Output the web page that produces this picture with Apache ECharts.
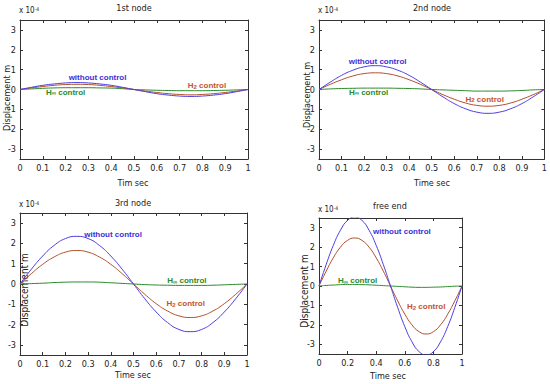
<!DOCTYPE html>
<html><head><meta charset="utf-8">
<script src="https://cdn.jsdelivr.net/npm/echarts@6/dist/echarts.min.js"></script>
<style>html,body{margin:0;padding:0;background:#fff}#c{width:550px;height:384px}</style>
</head><body><div id="c"></div>
<script>
var times = [0,0.05,0.1,0.15,0.2,0.25,0.3,0.35,0.4,0.45,0.5,0.55,0.6,0.65,0.7,0.75,0.8,0.85,0.9,0.95,1];
var panelTitles = ['1st node','2nd node','3rd node','free end'];
var xTitles = ['Tim sec','Time sec','Time sec','Time sec'];
var yTicks = [-3,-2,-1,0,1,2,3];

var node1Without = [0,0.11,0.21,0.28,0.33,0.35,0.33,0.28,0.21,0.11,0,-0.11,-0.21,-0.28,-0.33,-0.35,-0.33,-0.28,-0.21,-0.11,0];
var node1H2 = [0,0.08,0.15,0.21,0.25,0.26,0.25,0.21,0.15,0.08,0,-0.08,-0.15,-0.21,-0.25,-0.27,-0.25,-0.21,-0.15,-0.08,0];
var node1Hinf = [0,0.03,0.06,0.08,0.09,0.09,0.09,0.08,0.07,0.04,0,-0.02,-0.04,-0.05,-0.06,-0.06,-0.06,-0.05,-0.04,-0.02,0];

var node2Without = [0,0.37,0.71,0.97,1.14,1.2,1.14,0.97,0.71,0.37,0,-0.37,-0.71,-0.97,-1.14,-1.2,-1.14,-0.97,-0.71,-0.37,0];
var node2H2 = [0,0.26,0.49,0.68,0.8,0.84,0.8,0.68,0.49,0.26,0,-0.26,-0.49,-0.68,-0.8,-0.84,-0.8,-0.68,-0.49,-0.26,0];
var node2Hinf = [0,0.03,0.05,0.06,0.07,0.07,0.07,0.06,0.05,0.03,0,-0.02,-0.04,-0.06,-0.08,-0.08,-0.08,-0.07,-0.05,-0.02,0];

var node3Without = [0,0.73,1.38,1.9,2.24,2.35,2.24,1.9,1.38,0.73,0,-0.73,-1.38,-1.9,-2.24,-2.35,-2.24,-1.9,-1.38,-0.73,0];
var node3H2 = [0,0.51,0.97,1.33,1.57,1.65,1.57,1.33,0.97,0.51,0,-0.51,-0.97,-1.33,-1.57,-1.65,-1.57,-1.33,-0.97,-0.51,0];
var node3Hinf = [0,0.02,0.04,0.07,0.09,0.1,0.1,0.09,0.06,0.03,0,-0.03,-0.05,-0.06,-0.07,-0.07,-0.07,-0.06,-0.04,-0.02,0];

var freeWithout = [0,1.1,2.09,2.87,3.38,3.55,3.38,2.87,2.09,1.1,0,-1.1,-2.09,-2.87,-3.38,-3.55,-3.38,-2.87,-2.09,-1.1,0];
var freeH2 = [0,0.76,1.45,2.0,2.35,2.47,2.35,2.0,1.45,0.76,0,-0.76,-1.45,-2.0,-2.35,-2.47,-2.35,-2.0,-1.45,-0.76,0];
var freeHinf = [0,0.03,0.05,0.07,0.08,0.08,0.07,0.06,0.04,0.02,0,-0.02,-0.04,-0.06,-0.07,-0.07,-0.06,-0.05,-0.03,-0.01,0];

var panels = [
  {w: node1Without, h2: node1H2, hi: node1Hinf},
  {w: node2Without, h2: node2H2, hi: node2Hinf},
  {w: node3Without, h2: node3H2, hi: node3Hinf},
  {w: freeWithout, h2: freeH2, hi: freeHinf}
];

// layout (pixels) and label anchors
var grids = [
  {left:20, top:20, width:228, height:139},
  {left:319, top:20, width:227, height:139},
  {left:20, top:213, width:227, height:142},
  {left:319, top:218, width:143, height:136}
];
var xIntervals = [0.1,0.1,0.1,0.2];
var labelPos = [
  {w:[0.34,0.6], hi:[0.2,-0.15], h2:[0.82,0.18]},
  {w:[0.26,1.42], hi:[0.22,-0.15], h2:[0.735,-0.5]},
  {w:[0.41,2.43], hi:[0.735,0.16], h2:[0.73,-0.98]},
  {w:[0.58,2.83], hi:[0.27,0.26], h2:[0.75,-1.08]}
];
var titlePos = [[134,8],[432,8],[133,203],[390,206]];
var expPos = [[19,10],[318,10],[19,204],[318,209]];
var xNamePos = [[133,183],[432,183],[133,375],[388,376]];
var yNamePos = [[7,98,9],[307,95,9],[24,290,10],[304,291,10]];

var BLUE = '#4a3ee0', RED = '#b24f2c', GREEN = '#2b8a2b';
var FONT = "'Liberation Sans Narrow','DejaVu Sans Condensed',sans-serif";
var AX = '#333';

var option = {backgroundColor:'#fff', animation:false, grid:[], xAxis:[], yAxis:[], series:[], graphic:[]};

function pairs(arr){ return times.map(function(t,i){return [t,arr[i]];}); }

panels.forEach(function(p, i){
  var g = grids[i];
  option.grid.push({left:g.left, top:g.top, width:g.width, height:g.height, show:false});
  option.xAxis.push({type:'value', gridIndex:i, min:0, max:1, interval:xIntervals[i], position:'bottom',
    axisLine:{show:true, onZero:false, lineStyle:{color:AX,width:1}},
    axisTick:{show:true, inside:true, length:3, lineStyle:{color:AX}},
    axisLabel:{show:true, margin:4, fontSize:9, color:'#222', fontFamily:FONT},
    splitLine:{show:false}});
  option.xAxis.push({type:'value', gridIndex:i, min:0, max:1, interval:xIntervals[i], position:'top',
    axisLine:{show:true, onZero:false, lineStyle:{color:AX,width:1}},
    axisTick:{show:true, inside:true, length:3, lineStyle:{color:AX}},
    axisLabel:{show:false}, splitLine:{show:false}});
  option.yAxis.push({type:'value', gridIndex:i, min:-3.5, max:3.5, position:'left',
    axisLine:{show:true, onZero:false, lineStyle:{color:AX,width:1}},
    axisTick:{show:true, inside:true, length:3, customValues:yTicks, lineStyle:{color:AX}},
    axisLabel:{show:true, margin:4, fontSize:9, color:'#222', fontFamily:FONT, customValues:yTicks},
    splitLine:{show:false}});
  option.yAxis.push({type:'value', gridIndex:i, min:-3.5, max:3.5, position:'right',
    axisLine:{show:true, onZero:false, lineStyle:{color:AX,width:1}},
    axisTick:{show:true, inside:true, length:3, customValues:yTicks, lineStyle:{color:AX}},
    axisLabel:{show:false}, splitLine:{show:false}});
  var xi = i*2, yi = i*2;
  [[p.hi,GREEN],[p.h2,RED],[p.w,BLUE]].forEach(function(s){
    option.series.push({type:'line', xAxisIndex:xi, yAxisIndex:yi, data:pairs(s[0]), smooth:true,
      showSymbol:false, clip:true, lineStyle:{color:s[1], width:1}});
  });
  var lp = labelPos[i];
  function lab(pos, fmt, color){
    var r = {
      c:{fontSize:8, fontWeight:'bold', fontFamily:'Liberation Sans', color:color},
      h:{fontSize:8, fontWeight:'bold', fontFamily:'Liberation Sans', color:color},
      s:{fontSize:6, fontWeight:'bold', fontFamily:'Liberation Sans', color:color, verticalAlign:'bottom'}
    };
    option.series.push({type:'scatter', xAxisIndex:xi, yAxisIndex:yi, data:[pos], symbolSize:1,
      itemStyle:{color:'rgba(0,0,0,0)'}, silent:true, z:5,
      label:{show:true, position:'inside', formatter:fmt, rich:r, color:color, opacity:1}});
  }
  lab(lp.w, '{c|without control}', '#3b2fd6');
  lab(lp.hi, '{h|H}{s|\u221e}{c| control}', '#2a8a2a');
  lab(lp.h2, '{h|H}{s|2}{c| control}', '#c4532d');

  option.graphic.push({type:'text', x:titlePos[i][0], y:titlePos[i][1],
    style:{text:panelTitles[i], fill:'#222', font:'9px '+FONT, textAlign:'center', textVerticalAlign:'middle'}});
  option.graphic.push({type:'text', x:expPos[i][0], y:expPos[i][1],
    style:{text:'{a|x 10}{b|-4}', fill:'#222', textVerticalAlign:'middle',
      rich:{a:{fontSize:8, fontFamily:FONT, fill:'#222'}, b:{fontSize:5, fontFamily:FONT, fill:'#222', verticalAlign:'top'}}}});
  option.graphic.push({type:'text', x:xNamePos[i][0], y:xNamePos[i][1],
    style:{text:xTitles[i], fill:'#222', font:'9px '+FONT, textAlign:'center', textVerticalAlign:'middle'}});
  option.graphic.push({type:'text', x:yNamePos[i][0], y:yNamePos[i][1], rotation:Math.PI/2,
    style:{text:'Displacement m', fill:'#222', font:yNamePos[i][2]+'px '+FONT, textAlign:'center', textVerticalAlign:'middle'}});
});

var chart = echarts.init(document.getElementById('c'), null, {renderer:'svg', width:550, height:384});
chart.setOption(option);
</script>
</body></html>
